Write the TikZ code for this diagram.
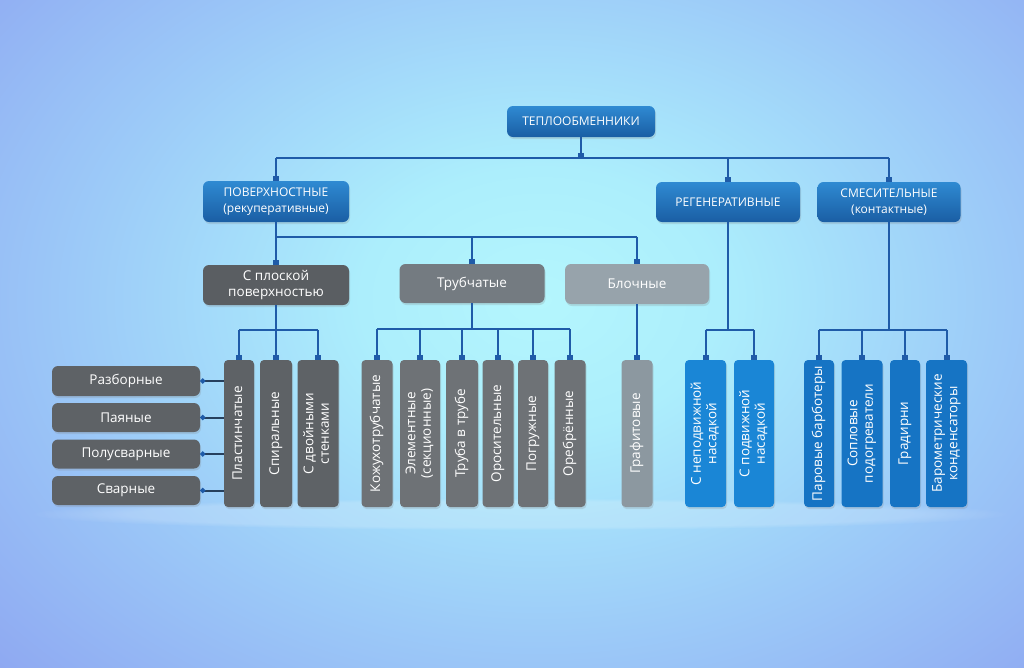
\documentclass[tikz,border=0pt]{standalone}
\usepackage{fontspec}
\setmainfont{Open Sans}
\usetikzlibrary{arrows.meta,shadows,fadings}
\definecolor{bgin}{HTML}{B4F6FD}
\definecolor{bgin2}{HTML}{ACEEFC}
\definecolor{bgmid}{HTML}{9CCAF8}
\definecolor{bgout}{HTML}{8CA2F0}
\definecolor{lnc}{HTML}{1F5BA8}
\definecolor{lnd}{HTML}{26405E}
\definecolor{blueTop}{HTML}{2F8AD2}
\definecolor{blueBot}{HTML}{1A5EA4}
\definecolor{tblue}{HTML}{1A86D6}
\definecolor{tblueB}{HTML}{1674C4}
\definecolor{gdark}{HTML}{5A5E62}
\definecolor{gmid}{HTML}{747B81}
\definecolor{glight}{HTML}{97A3AB}
\definecolor{gtall}{HTML}{6E7276}
\definecolor{gleft}{HTML}{5E6266}
\definecolor{ggraf}{HTML}{8C98A0}
\pgfdeclareradialshading{bgshade}{\pgfpoint{0bp}{0bp}}{color(0bp)=(bgin); color(7bp)=(bgin2); color(18bp)=(bgmid); color(31bp)=(bgout); color(50bp)=(bgout)}
\newcommand\vtext[1]{\rotatebox{90}{\begin{tabular}{@{}c@{}}#1\end{tabular}}}
\tikzset{
  box/.style={rounded corners=6pt, text=white, align=center, inner sep=0pt,
    font=\fontsize{13.5}{15.5}\selectfont,
    drop shadow={opacity=0.22, shadow xshift=1pt, shadow yshift=-2pt}},
  bluebox/.style={box, top color=blueTop, bottom color=blueBot, font=\fontsize{12}{15.5}\selectfont},
  graybox/.style={box, fill=#1},
  tallbox/.style={box, rounded corners=4pt, minimum height=147pt, fill=#1},
  ln/.style={draw=lnc, line width=2pt},
  sq/.style={-{Square[length=5pt,width=6pt]}},
  lnleft/.style={draw=lnd, line width=2pt, {Circle[length=5pt,color=lnc]}-},
}
\begin{document}
\begin{tikzpicture}[x=1pt,y=-1pt]
\useasboundingbox (0,0) rectangle (1024,667);
\begin{scope}
\clip (0,0) rectangle (1024,667);
\fill[bgout] (0,0) rectangle (1024,667);
\shade[shading=bgshade] (-100,-170) rectangle (1180,770);
\fill[white, opacity=0.18, path fading=circle with fuzzy edge 20 percent] (520,514) ellipse (490 and 16);
\end{scope}

% level 1
\node[bluebox, minimum width=148pt, minimum height=31pt] (root) at (581,121.5) {ТЕПЛООБМЕННИКИ};
% level 2
\node[bluebox, minimum width=146pt, minimum height=41pt] (pov) at (276,201.5) {ПОВЕРХНОСТНЫЕ\\(рекуперативные)};
\node[bluebox, minimum width=144pt, minimum height=40pt] (reg) at (728,202) {РЕГЕНЕРАТИВНЫЕ};
\node[bluebox, minimum width=143pt, minimum height=40pt] (sme) at (889,202) {СМЕСИТЕЛЬНЫЕ\\(контактные)};
% level 3
\node[graybox=gdark, minimum width=146pt, minimum height=40pt] (plosk) at (276,285) {С плоской\\поверхностью};
\node[graybox=gmid, minimum width=145pt, minimum height=39pt] (trub) at (472,283.5) {Трубчатые};
\node[graybox=glight, minimum width=144pt, minimum height=40pt] (bloch) at (637,284) {Блочные};
% level 4 tall boxes
\node[tallbox=gleft, minimum width=30pt] (plast) at (239,433.5) {\vtext{Пластинчатые}};
\node[tallbox=gleft, minimum width=32pt] (spir) at (276,433.5) {\vtext{Спиральные}};
\node[tallbox=gleft, minimum width=41pt] (dvoj) at (318,433.5) {\vtext{С двойными\\стенками}};
\node[tallbox=gtall, minimum width=31pt] (kozh) at (377,433.5) {\vtext{Кожухотрубчатые}};
\node[tallbox=gtall, minimum width=40pt] (elem) at (420,433.5) {\vtext{Элементные\\(секционные)}};
\node[tallbox=gtall, minimum width=32pt] (truba) at (462,433.5) {\vtext{Труба в трубе}};
\node[tallbox=gtall, minimum width=31pt] (oros) at (498,433.5) {\vtext{Оросительные}};
\node[tallbox=gtall, minimum width=30pt] (pogr) at (533,433.5) {\vtext{Погружные}};
\node[tallbox=gtall, minimum width=31pt] (oreb) at (570,433.5) {\vtext{Оребрённые}};
\node[tallbox=ggraf, minimum width=31pt] (graf) at (637,433.5) {\vtext{Графитовые}};
\node[tallbox=tblue, minimum width=41pt] (nepod) at (705.5,433.5) {\vtext{С неподвижной\\насадкой}};
\node[tallbox=tblue, minimum width=40pt] (podv) at (754,433.5) {\vtext{С подвижной\\насадкой}};
\node[tallbox=tblueB, minimum width=30pt] (parov) at (819,433.5) {\vtext{Паровые барботеры}};
\node[tallbox=tblueB, minimum width=41pt] (sopl) at (862,433.5) {\vtext{Сопловые\\подогреватели}};
\node[tallbox=tblueB, minimum width=30pt] (grad) at (905,433.5) {\vtext{Градирни}};
\node[tallbox=tblueB, minimum width=41pt] (barom) at (946.5,433.5) {\vtext{Барометрические\\конденсаторы}};
% left horizontal boxes
\node[graybox=gleft, minimum width=148pt, minimum height=30pt] (razb) at (126,381) {Разборные};
\node[graybox=gleft, minimum width=148pt, minimum height=29pt] (payan) at (126,417.5) {Паяные};
\node[graybox=gleft, minimum width=148pt, minimum height=29pt] (polus) at (126,454) {Полусварные};
\node[graybox=gleft, minimum width=148pt, minimum height=29pt] (svar) at (126,490.5) {Сварные};

% connectors level 1-2
\coordinate (b1) at (581,158);
\draw[ln] (pov.north |- b1) -- (sme.north |- b1);
\draw[ln,sq] (root.south) -- (b1);
\draw[ln,sq] (pov.north |- b1) -- (pov.north);
\draw[ln,sq] (reg.north |- b1) -- (reg.north);
\draw[ln,sq] (sme.north |- b1) -- (sme.north);
% level 2-3
\coordinate (b2) at (276,237);
\draw[ln] (b2) -- (b2 -| bloch.north);
\draw[ln,sq] (pov.south) -- (plosk.north);
\draw[ln,sq] (b2 -| trub.north) -- (trub.north);
\draw[ln,sq] (b2 -| bloch.north) -- (bloch.north);
% plosk group
\coordinate (b3) at (276,330);
\draw[ln] (b3 -| plast.north) -- (b3 -| dvoj.north);
\draw[ln,sq] (plosk.south) -- (spir.north);
\draw[ln,sq] (b3 -| plast.north) -- (plast.north);
\draw[ln,sq] (b3 -| dvoj.north) -- (dvoj.north);
% trub group
\coordinate (b4) at (472,329);
\draw[ln] (trub.south) -- (b4);
\draw[ln] (b4 -| kozh.north) -- (b4 -| oreb.north);
\foreach \n in {kozh,elem,truba,oros,pogr,oreb}{\draw[ln,sq] (b4 -| \n.north) -- (\n.north);}
% bloch
\draw[ln,sq] (bloch.south) -- (graf.north);
% reg group
\coordinate (b5) at (728,330);
\draw[ln] (reg.south) -- (b5);
\draw[ln] (b5 -| nepod.north) -- (b5 -| podv.north);
\foreach \n in {nepod,podv}{\draw[ln,sq] (b5 -| \n.north) -- (\n.north);}
% sme group
\coordinate (b6) at (889,330);
\draw[ln] (sme.south) -- (b6);
\draw[ln] (b6 -| parov.north) -- (b6 -| barom.north);
\foreach \n in {parov,sopl,grad,barom}{\draw[ln,sq] (b6 -| \n.north) -- (\n.north);}
% left connectors
\foreach \n in {razb,payan,polus,svar}{\draw[lnleft] (\n.east) -- (\n.east -| plast.west);}
\end{tikzpicture}
\end{document}
